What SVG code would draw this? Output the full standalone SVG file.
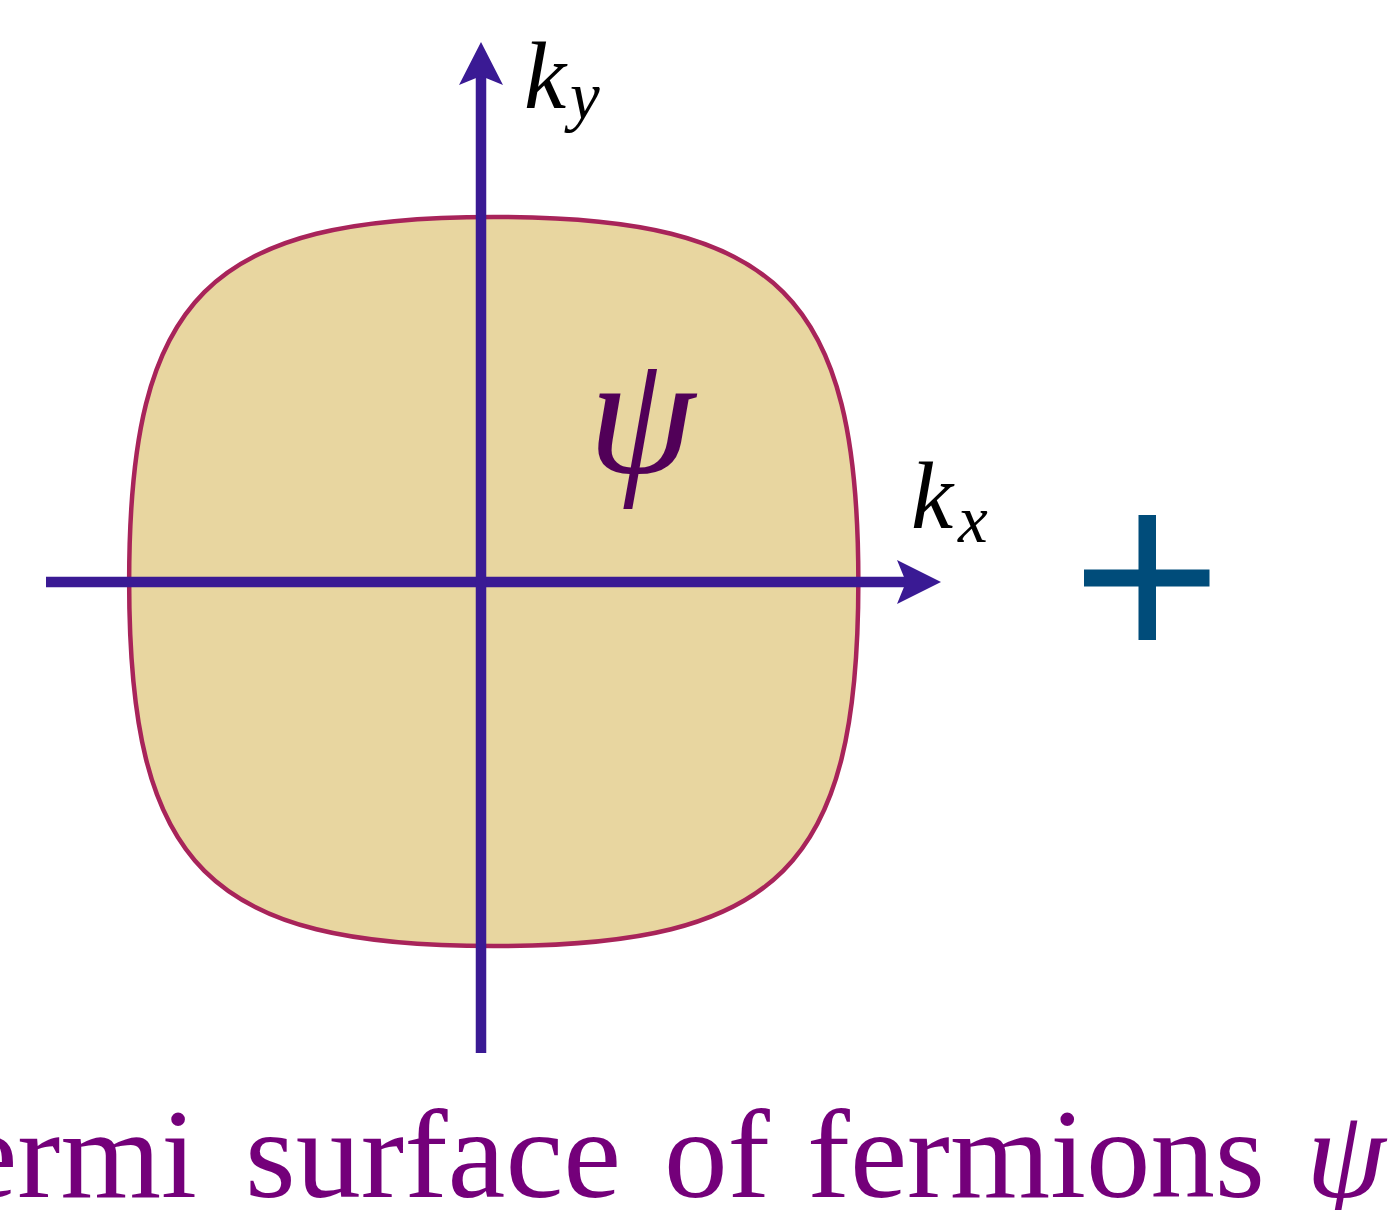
<svg xmlns="http://www.w3.org/2000/svg" width="1397" height="1210" viewBox="0 0 1397 1210">
<style>
.axis{stroke:#3a1a94;stroke-width:10.5;fill:none}
.head{fill:#3a1a94}
.math{font-family:"Liberation Serif","DejaVu Serif",serif;font-style:italic;fill:#000}
.cap{font-family:"Liberation Serif","DejaVu Serif",serif;fill:#74007a;font-size:128px}
</style>
<rect width="1397" height="1210" fill="#ffffff"/>
<g id="fermi-surface">
<path d="M858.35,581.5 C858.35,296 779.25,216.9 493.75,216.9 C208.25,216.9 129.15,296 129.15,581.5 C129.15,867 208.25,946.1 493.75,946.1 C779.25,946.1 858.35,867 858.35,581.5 Z" fill="#e8d6a0" stroke="#a8245a" stroke-width="4.5"/>
</g>
<g id="psi-label">
<text class="math" x="588" y="472" font-size="172" fill="#510058" style="fill:#510058">ψ</text>
</g>
<g id="connectors">
<line class="axis" x1="46" y1="582" x2="906" y2="582"/>
<path class="head" d="M941,582 L897,560 L906,582 L897,604 Z"/>
<line class="axis" x1="481" y1="1053" x2="481" y2="76"/>
<path class="head" d="M481,42 L459,85 L481,76 L503,85 Z"/>
</g>
<g id="ky-label">
<text class="math" x="524" y="108" font-size="95">k</text>
<text class="math" x="570" y="119" font-size="67">y</text>
</g>
<g id="kx-label">
<text class="math" x="911" y="528" font-size="95">k</text>
<text class="math" x="958" y="542" font-size="67">x</text>
</g>
<g id="plus">
<rect x="1138.5" y="515" width="17.5" height="125" fill="#004c7a"/>
<rect x="1084" y="569.5" width="125.5" height="17" fill="#004c7a"/>
</g>
<g id="caption">
<text class="cap" x="-112" y="1197" textLength="309" lengthAdjust="spacingAndGlyphs">Fermi</text>
<text class="cap" x="245" y="1197" textLength="376" lengthAdjust="spacingAndGlyphs">surface</text>
<text class="cap" x="664" y="1197" textLength="106" lengthAdjust="spacingAndGlyphs">of</text>
<text class="cap" x="807" y="1197" textLength="458" lengthAdjust="spacingAndGlyphs">fermions</text>
<text class="cap" x="1306" y="1197" font-style="italic">ψ</text>
</g>
</svg>
